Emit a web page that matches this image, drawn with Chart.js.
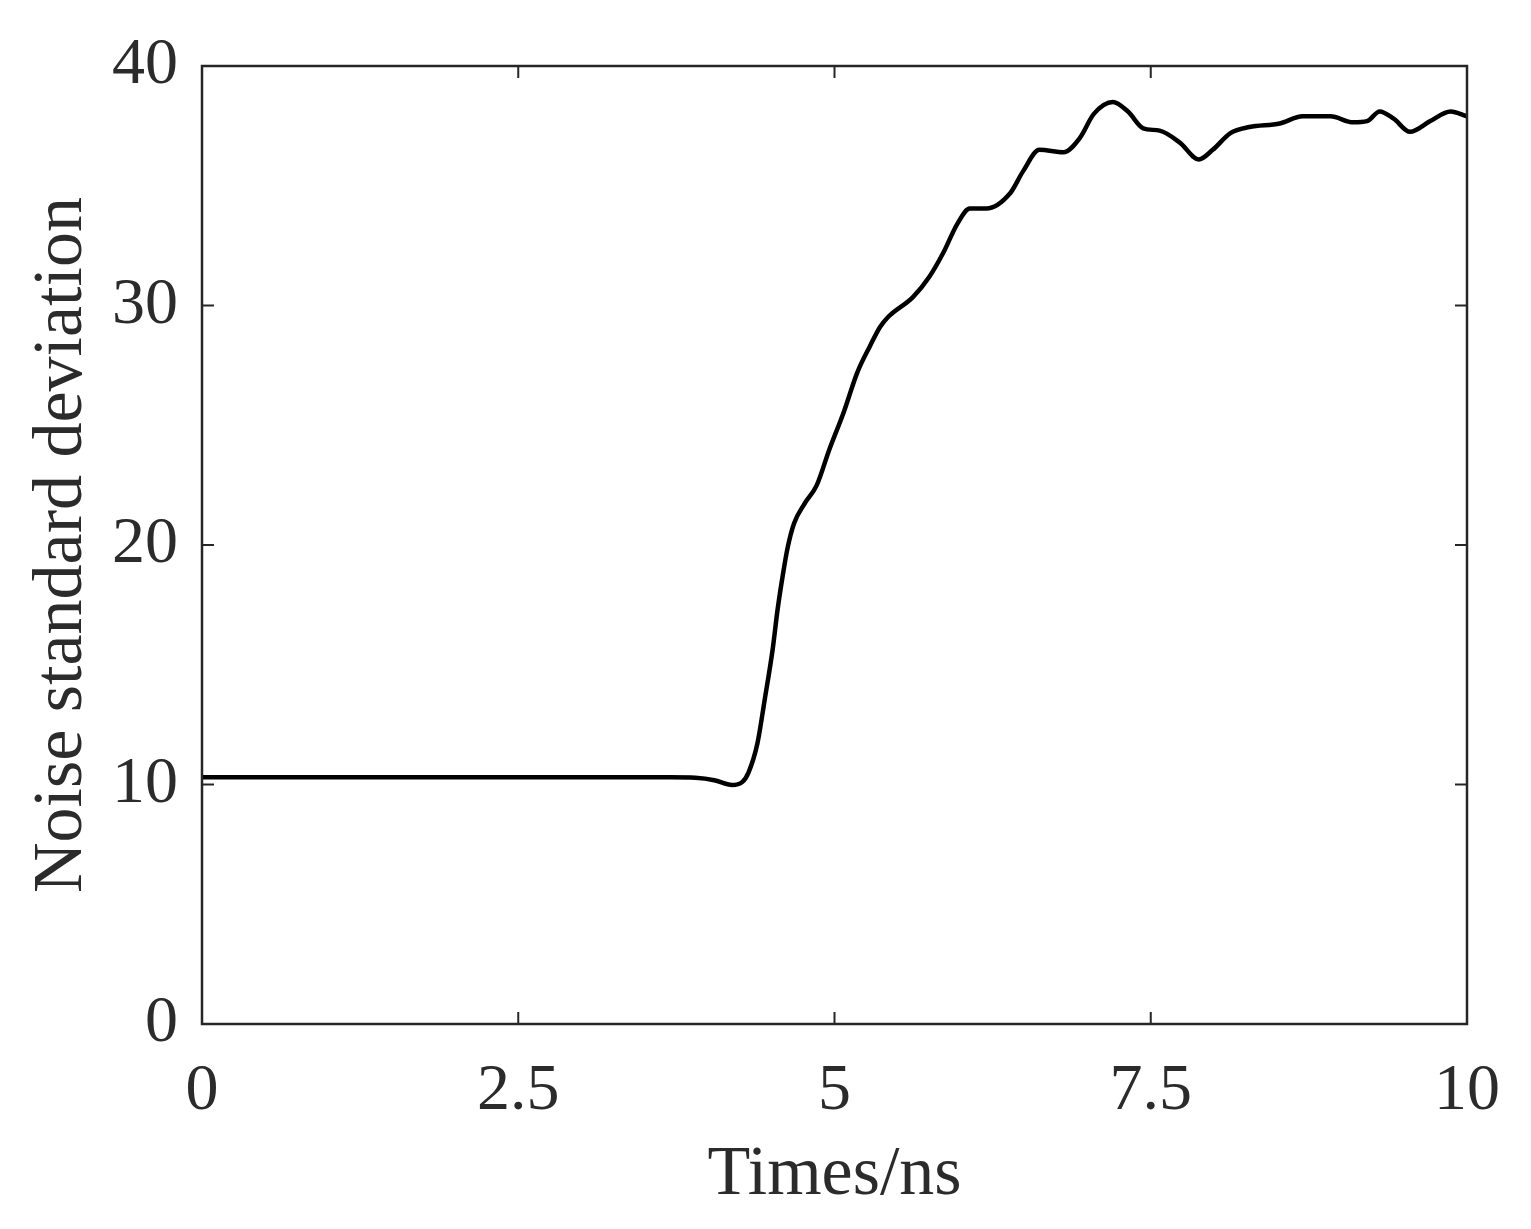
<!DOCTYPE html>
<html>
<head>
<meta charset="utf-8">
<script src="https://cdn.jsdelivr.net/npm/chart.js@4"></script>
<style>
    html, body { margin: 0; padding: 0; background: #fff; }
    #wrap { width: 1531px; height: 1229px; }
</style>
</head>
<body>
<div id="wrap"><canvas id="chart" width="1531" height="1229"></canvas></div>
<script>
// time axis (ns)
const times = [
    0, 1.0, 2.0, 3.0, 3.7, 3.9, 4.05, 4.19, 4.27, 4.32, 4.39, 4.45, 4.51, 4.55,
    4.59, 4.63, 4.68, 4.76, 4.86, 4.96, 5.07, 5.18, 5.28, 5.36, 5.42, 5.62,
    5.75, 5.86, 5.97, 6.07, 6.2, 6.39, 6.49, 6.62, 6.81, 6.94, 7.05, 7.2, 7.32,
    7.44, 7.57, 7.73, 7.88, 7.99, 8.13, 8.28, 8.52, 8.7, 8.92, 9.1, 9.21, 9.31,
    9.42, 9.55, 9.71, 9.87, 10.0,
]
// noise standard deviation
const noiseStd = [
    10.3, 10.3, 10.3, 10.3, 10.3, 10.28, 10.18, 9.98, 10.1, 10.5, 11.7, 13.6,
    15.6, 17.3, 18.7, 19.9, 20.9, 21.7, 22.5, 24.0, 25.5, 27.2, 28.3, 29.1,
    29.5, 30.35, 31.2, 32.2, 33.4, 34.05, 34.05, 34.7, 35.6, 36.5, 36.4, 37.0,
    38.0, 38.5, 38.1, 37.4, 37.3, 36.8, 36.1, 36.5, 37.2, 37.45, 37.6, 37.9,
    37.9, 37.65, 37.7, 38.1, 37.8, 37.25, 37.7, 38.1, 37.9,
]
const xTicks = [0, 2.5, 5, 7.5, 10]
const yTicks = [0, 10, 20, 30, 40]

const textColor = '#2b2b2b'
const axisColor = '#262626'
const fontFamily = '"Liberation Serif", "Times New Roman", serif'

// MATLAB style box with inward ticks
const boxPlugin = {
    id: 'box',
    afterDatasetsDraw(chart) {
        const { ctx, chartArea: a, scales } = chart
        const len = 12
        ctx.save()
        ctx.strokeStyle = axisColor
        ctx.lineWidth = 2.5
        ctx.strokeRect(a.left, a.top, a.right - a.left, a.bottom - a.top)
        ctx.lineWidth = 2
        ctx.beginPath()
        xTicks.slice(1, -1).forEach((v) => {
            const px = scales.x.getPixelForValue(v)
            ctx.moveTo(px, a.bottom)
            ctx.lineTo(px, a.bottom - len)
            ctx.moveTo(px, a.top)
            ctx.lineTo(px, a.top + len)
        })
        yTicks.slice(1, -1).forEach((v) => {
            const py = scales.y.getPixelForValue(v)
            ctx.moveTo(a.left, py)
            ctx.lineTo(a.left + len, py)
            ctx.moveTo(a.right, py)
            ctx.lineTo(a.right - len, py)
        })
        ctx.stroke()
        ctx.restore()
    },
}

new Chart(document.getElementById('chart').getContext('2d'), {
    type: 'line',
    data: {
        datasets: [
            {
                data: times.map((t, i) => ({ x: t, y: noiseStd[i] })),
                borderColor: '#000',
                borderWidth: 4.5,
                pointRadius: 0,
                cubicInterpolationMode: 'monotone',
                fill: false,
            },
        ],
    },
    options: {
        responsive: false,
        animation: false,
        layout: { padding: { left: 0, right: 64, top: 66, bottom: 0 } },
        plugins: { legend: { display: false }, tooltip: { enabled: false } },
        scales: {
            x: {
                type: 'linear',
                min: 0,
                max: 10,
                afterBuildTicks: (s) => {
                    s.ticks = xTicks.map((v) => ({ value: v }))
                },
                afterFit: (s) => {
                    s.height = 205
                },
                grid: { display: false, drawTicks: false },
                border: { display: false },
                ticks: {
                    color: textColor,
                    padding: 28,
                    maxRotation: 0,
                    font: { family: fontFamily, size: 66 },
                },
                title: {
                    display: true,
                    text: 'Times/ns',
                    color: textColor,
                    padding: { top: 6, bottom: 18 },
                    font: { family: fontFamily, size: 70, lineHeight: 1 },
                },
            },
            y: {
                min: 0,
                max: 40,
                afterBuildTicks: (s) => {
                    s.ticks = yTicks.map((v) => ({ value: v }))
                },
                afterFit: (s) => {
                    s.width = 202
                },
                grid: { display: false, drawTicks: false },
                border: { display: false },
                ticks: {
                    color: textColor,
                    padding: 24,
                    font: { family: fontFamily, size: 66 },
                },
                title: {
                    display: true,
                    text: 'Noise standard deviation',
                    color: textColor,
                    padding: { top: 28, bottom: 0 },
                    font: { family: fontFamily, size: 70, lineHeight: 1 },
                },
            },
        },
    },
    plugins: [boxPlugin],
})
</script>
</body>
</html>
